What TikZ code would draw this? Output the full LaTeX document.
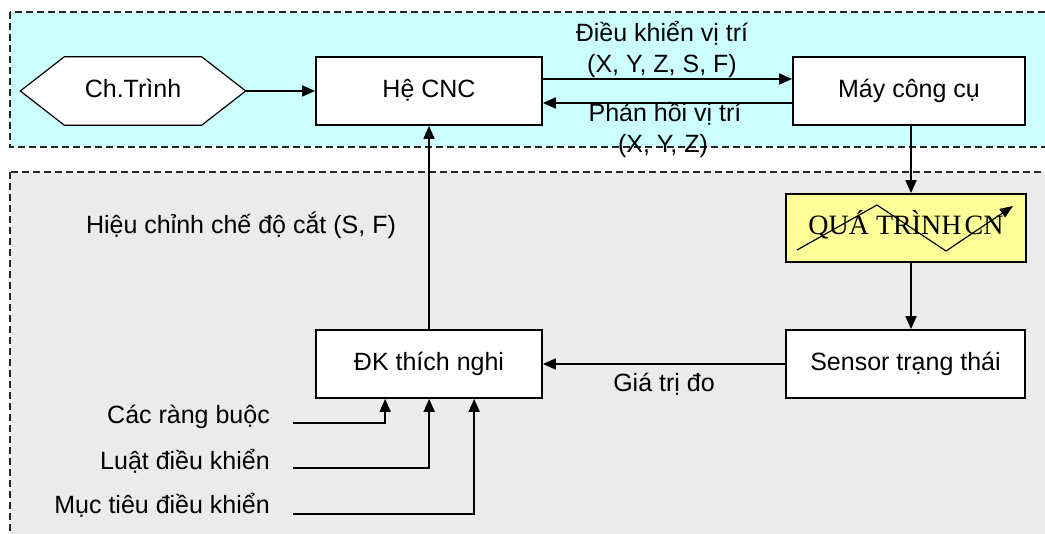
\documentclass[tikz,border=0pt]{standalone}
\usepackage{fontspec}
\setmainfont{Liberation Sans}
\newfontfamily\qfont{Liberation Serif}
\usetikzlibrary{arrows.meta,calc}
\definecolor{cyanbg}{RGB}{204,255,255}
\definecolor{graybg}{RGB}{235,235,235}
\definecolor{yellowbg}{RGB}{255,255,153}
\begin{document}
\begin{tikzpicture}[x=1pt,y=-1pt,
  txt/.style={font=\fontsize{25}{30}\selectfont, inner sep=0pt, text height=18pt, text depth=5pt},
  box/.style={txt, draw=black, fill=white, line width=1.7pt, minimum height=68pt},
  arr/.style={line width=1.7pt, -{Triangle[length=13pt,width=11pt]}},
  region/.style={dash pattern=on 7pt off 4pt, line width=1.3pt, draw=black!85}]
\useasboundingbox (0,0) rectangle (1045,534);
\clip (0,0) rectangle (1045,534);
\fill[white] (0,0) rectangle (1045,534);
% regions
\draw[region, fill=cyanbg] (10,12) rectangle (1080,147);
\draw[region, fill=graybg] (10,172) rectangle (1080,580);
% hexagon
\node[minimum width=225pt, minimum height=68pt, inner sep=0pt] (prog) at (133,91) {};
\draw[line width=1.2pt, fill=white] (prog.west) -- ($(prog.north west)+(44,0)$) -- ($(prog.north east)+(-44,0)$) -- (prog.east) -- ($(prog.south east)+(-44,0)$) -- ($(prog.south west)+(44,0)$) -- cycle;
\node[txt] (progtext) at (prog) {Ch.Trình};
% boxes
\node[box, minimum width=226pt] (cnc) at (429,91) {Hệ CNC};
\node[box, minimum width=232pt] (may) at (909,91) {Máy công cụ};
\node[box, minimum width=240pt, fill=yellowbg, font=\qfont\fontsize{28}{30}\selectfont] (qua) at (906,228) {QUÁ TRÌNH\hspace{3pt}CN};
\node[box, minimum width=239pt] (sensor) at (905.5,364) {Sensor trạng thái};
\node[box, minimum width=226pt] (dk) at (429,364) {ĐK thích nghi};
% zigzag arrow in yellow box
\draw[line width=1.2pt, -{Triangle[length=13pt,width=10pt]}] ($(qua.center)+(-109,22)$) -- ($(qua.center)+(-29,-23)$) -- ($(qua.center)+(40,23)$) -- ($(qua.center)+(107,-22)$);
% connectors
\draw[arr] (prog.east) -- (cnc.west);
\draw[arr] ([yshift=12pt]cnc.east) -- ([yshift=12pt]may.west);
\draw[arr] ([yshift=-12pt]may.west) -- ([yshift=-12pt]cnc.east);
\draw[arr] ([xshift=2pt]may.south) -- ([xshift=2pt]may.south |- qua.north);
\draw[arr] ([xshift=2pt]may.south |- qua.south) -- ([xshift=2pt]may.south |- sensor.north);
\draw[arr] (sensor.west) -- (dk.east);
\draw[arr] (dk.north) -- (cnc.south);
% labels
\node[txt] (l1) at (662,35) {Điều khiển vị trí};
\node[txt] (l2) at (662,66) {(X, Y, Z, S, F)};
\node[txt] (l3) at (665,115) {Phản hồi vị trí};
\node[txt] (l4) at (663,146) {(X, Y, Z)};
\node[txt] (l5) at (241,227) {Hiệu chỉnh chế độ cắt (S, F)};
\node[txt] (l6) at (664,385) {Giá trị đo};
% inputs
\node[txt, anchor=east] (c1) at (270,417) {Các ràng buộc};
\node[txt, anchor=east] (c2) at (270,463) {Luật điều khiển};
\node[txt, anchor=east] (c3) at (270,507) {Mục tiêu điều khiển};
\coordinate (s1) at (293,423);
\coordinate (s2) at (293,468);
\coordinate (s3) at (293,514);
\draw[arr] (s1) -| ($(dk.south west)+(70,0)$);
\draw[arr] (s2) -| ($(dk.south west)+(114,0)$);
\draw[arr] (s3) -| ($(dk.south west)+(159,0)$);
\end{tikzpicture}
\end{document}
